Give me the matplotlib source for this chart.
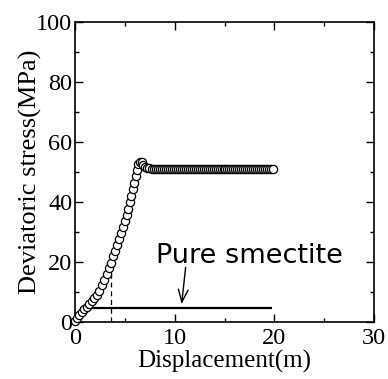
import matplotlib
matplotlib.use("Agg")
import matplotlib.pyplot as plt

# Rising part of the curve (displacement m, deviatoric stress MPa)
rise_x = [0.0, 0.2, 0.45, 0.7, 0.95, 1.2, 1.45, 1.7, 1.95, 2.2, 2.45, 2.7, 2.95,
          3.2, 3.45, 3.65, 3.85, 4.05, 4.25, 4.45, 4.65, 4.82, 5.0, 5.17, 5.33,
          5.48, 5.63, 5.78, 5.93, 6.08, 6.22, 6.37, 6.52, 6.68, 6.85, 7.0, 7.2, 7.4]
rise_y = [0.3, 1.3, 2.3, 3.4, 4.3, 5.1, 6.0, 6.9, 7.9, 9.1, 10.5, 12.2, 14.1,
          16.0, 18.0, 19.8, 21.9, 23.8, 25.7, 27.7, 29.7, 31.7, 33.7, 35.7, 37.8,
          39.9, 42.0, 44.2, 46.4, 48.6, 50.8, 52.6, 53.4, 53.2, 52.4, 51.8, 51.4, 51.2]

# Residual (flat) part
flat_x = [7.7, 7.9, 8.1, 8.3, 8.5, 8.7, 8.9, 9.1, 9.3, 9.5, 9.7, 9.9, 10.1, 10.3,
          10.5, 10.7, 10.9, 11.1, 11.3, 11.5, 11.7, 11.9, 12.1, 12.3, 12.5, 12.7,
          12.9, 13.1, 13.3, 13.5, 13.7, 13.9, 14.1, 14.3, 14.5, 14.7, 14.9, 15.1,
          15.3, 15.5, 15.7, 15.9, 16.1, 16.3, 16.5, 16.7, 16.9, 17.1, 17.3, 17.5,
          17.7, 17.9, 18.1, 18.3, 18.5, 18.7, 18.9, 19.1, 19.3, 19.5, 19.7, 19.9]
flat_y = [51.1, 51.1, 51.1, 51.1, 51.1, 51.1, 51.1, 51.1, 51.1, 51.1, 51.1, 51.1,
          51.1, 51.1, 51.1, 51.1, 51.1, 51.1, 51.1, 51.1, 51.1, 51.1, 51.1, 51.1,
          51.1, 51.1, 51.1, 51.1, 51.1, 51.1, 51.1, 51.1, 51.1, 51.1, 51.1, 51.1,
          51.1, 51.1, 51.1, 51.1, 51.1, 51.1, 51.1, 51.1, 51.1, 51.1, 51.1, 51.1,
          51.1, 51.1, 51.1, 51.1, 51.1, 51.1, 51.1, 51.1, 51.1, 51.1, 51.1, 51.1,
          51.1, 51.1]

# Pure smectite line
smectite_x = [0.5, 19.8]
smectite_y = [4.8, 4.8]

# Dashed marker line
dash_x = [3.65, 3.65]
dash_y = [0.0, 19.5]

label_text = "Pure smectite"
x_ticks = [0, 10, 20, 30]
y_ticks = [0, 20, 40, 60, 80, 100]

serif = ["Liberation Serif", "DejaVu Serif"]

fig = plt.figure(figsize=(3.88, 3.79), dpi=100)
ax = fig.add_axes([75 / 388, 57 / 379, 299 / 388, 300 / 379])

ax.plot(dash_x, dash_y, color="black", lw=0.9, ls=(0, (4, 3)), zorder=2)
ax.plot(smectite_x, smectite_y, color="black", lw=1.6, zorder=2, solid_capstyle="butt")

ax.plot(rise_x + flat_x, rise_y + flat_y, ls="none", marker="o", ms=5.9,
        mfc="white", mec="black", mew=0.9, clip_on=False, zorder=3)

ax.annotate("", xy=(10.7, 6.0), xytext=(11.1, 18.2),
            arrowprops=dict(arrowstyle="->,head_length=0.9,head_width=0.35",
                            color="black", lw=1.0, shrinkA=0, shrinkB=0))
ax.text(17.55, 19.6, label_text, ha="center", va="baseline",
        fontsize=19.5, family=["DejaVu Sans"])

ax.set_xlim(0, 30)
ax.set_ylim(0, 100)
ax.set_xticks(x_ticks)
ax.set_yticks(y_ticks)
ax.set_xticks([5, 15, 25], minor=True)
ax.set_yticks([10, 30, 50, 70, 90], minor=True)
ax.tick_params(which="both", direction="in", top=True, right=True, width=1.0)
ax.tick_params(which="major", length=6)
ax.tick_params(which="minor", length=3)
ax.tick_params(axis="x", which="major", pad=4)
ax.tick_params(axis="y", which="major", pad=2)
for lab in ax.get_xticklabels() + ax.get_yticklabels():
    lab.set_family(serif)
    lab.set_fontsize(17.5)
for sp in ax.spines.values():
    sp.set_linewidth(1.2)

ax.set_xlabel("Displacement(m)", family=serif, fontsize=18, labelpad=1)
ax.set_ylabel("Deviatoric stress(MPa)", family=serif, fontsize=19)
ax.yaxis.set_label_coords(-0.112, 0.5)

fig.savefig("out.png", dpi=100)
